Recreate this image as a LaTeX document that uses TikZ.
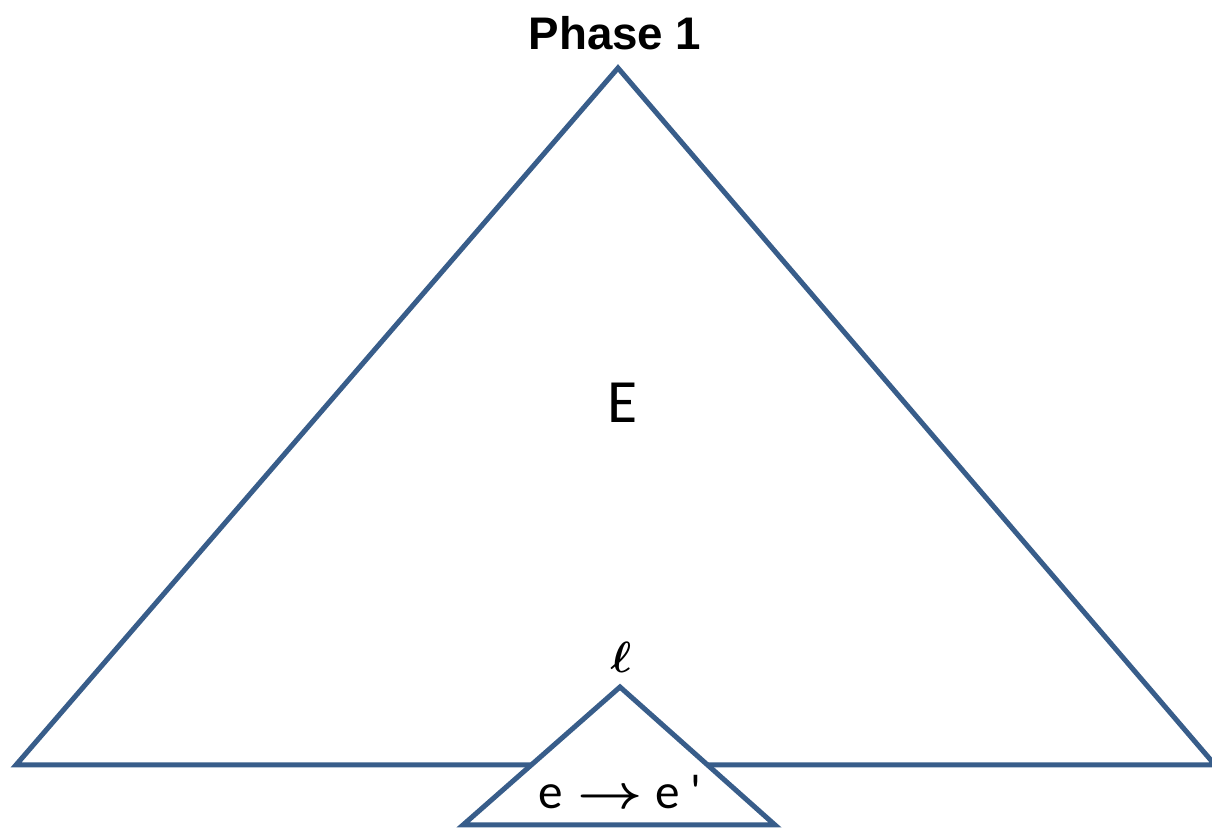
\documentclass[tikz,border=0pt]{standalone}
\usepackage{amsmath,amssymb}
\usepackage{fontspec}
\setmainfont{Carlito}
\newfontfamily\arialfont{Liberation Sans}
\usetikzlibrary{positioning}
\definecolor{triblue}{HTML}{385D8A}
\tikzset{
  % trianglar
  tri/.style={draw=triblue,line width=2.85pt,line join=miter},
  sub/.style={tri,fill=white},
  % text
  title/.style={inner sep=0pt,font=\arialfont\bfseries\fontsize{26}{30}\selectfont},
  big/.style={inner sep=0pt,font=\fontsize{35}{40}\selectfont},
  lbl/.style={inner sep=0pt,font=\boldmath\fontsize{24}{28}\selectfont},
  rule/.style={inner sep=0pt,font=\fontsize{28}{32}\selectfont},
}
\newcommand{\ruleArrow}{\scalebox{1.3}[1.1]{$\boldsymbol{\rightarrow}$}}
\begin{document}
\begin{tikzpicture}
  \useasboundingbox (0,0) rectangle (24.24,16.58);
  \coordinate (bl) at (0.32,1.28);
  \coordinate (top) at (12.36,15.22);
  \coordinate (br) at (24.3,1.28);
  \coordinate (sl) at (9.26,0.08);
  \coordinate (stop) at (12.4,2.84);
  \coordinate (sr) at (15.5,0.08);
  \draw[tri] (bl) -- (top) -- (br) -- cycle;
  \draw[sub] (sl) -- (stop) -- (sr) -- cycle;
  \node[title] (phase) at (12.3,15.92) {Phase 1};
  \node[big] (E) at (12.46,8.52) {E};
  \node[lbl] (ell) at (12.42,3.44) {$\ell$};
  \node[rule] (rw) at (12.4,0.74) {e\hspace{0.3em}\ruleArrow\hspace{0.25em}e\hspace{0.22em}\textquotesingle};
\end{tikzpicture}
\end{document}
